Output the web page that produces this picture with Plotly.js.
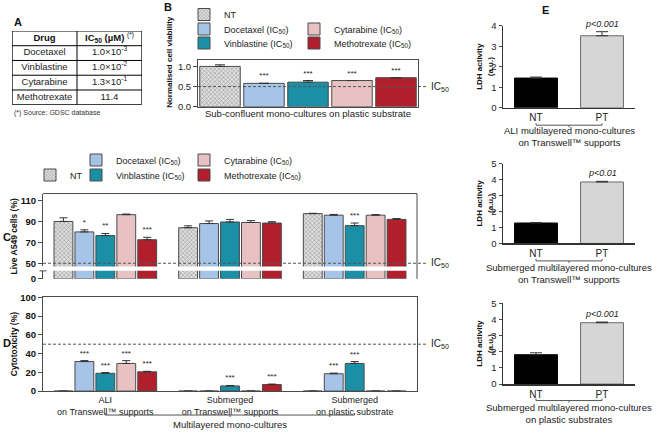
<!DOCTYPE html>
<html><head><meta charset="utf-8">
<script src="https://cdn.plot.ly/plotly-3.0.1.min.js"></script>
<style>html,body{margin:0;padding:0;background:#fff}</style>
</head><body><div id="chart" style="width:660px;height:432px"></div>
<script>
// ---------------- data ----------------
const treatments = ["NT", "Docetaxel", "Vinblastine", "Cytarabine", "Methotrexate"];
const legendLabels = ["NT", "Docetaxel (IC<sub>50</sub>)", "Vinblastine (IC<sub>50</sub>)", "Cytarabine (IC<sub>50</sub>)", "Methotrexate (IC<sub>50</sub>)"];

const tableHeader = ["<b>Drug</b>", "<b>IC<sub>50</sub> (µM)</b> <sup>(*)</sup>"];
const tableDrugs = ["Docetaxel", "Vinblastine", "Cytarabine", "Methotrexate"];
const tableIC50 = ["1.0×10<sup>-3</sup>", "1.0×10<sup>-2</sup>", "1.3×10<sup>-1</sup>", "11.4"];
const tableNote = "(*) Source: GDSC database";

const bViability = [1.00, 0.58, 0.61, 0.65, 0.72];
const bViabilityErr = [0.04, 0.00, 0.04, 0.00, 0.00];
const bSignif = ["", "***", "***", "***", "***"];
const bCulture = "Sub-confluent mono-cultures on plastic substrate";

const cultures = ["ALI<br>on Transwell™ supports", "Submerged<br>on Transwell™ supports", "Submerged<br>on plastic substrate"];
const culturesGroup = "Multilayered mono-cultures";

const liveNT  = [90.0, 84.0, 97.5];
const liveDoc = [80.0, 88.0, 96.0];
const liveVin = [76.5, 89.5, 86.0];
const liveCyt = [96.5, 89.0, 96.0];
const liveMtx = [72.5, 88.5, 92.0];
const liveErrNT  = [3.5, 1.8, 0.3];
const liveErrDoc = [2.0, 2.5, 0.7];
const liveErrVin = [2.0, 2.5, 2.5];
const liveErrCyt = [0.6, 1.8, 0.6];
const liveErrMtx = [2.3, 1.3, 0.8];
const liveSigNT  = ["", "", ""];
const liveSigDoc = ["*", "", ""];
const liveSigVin = ["**", "", "***"];
const liveSigCyt = ["", "", ""];
const liveSigMtx = ["***", "", ""];

const cytoNT  = [0, 0, 0];
const cytoDoc = [31.5, 0, 18.5];
const cytoVin = [19.0, 5.5, 29.5];
const cytoCyt = [29.5, 0, 0];
const cytoMtx = [20.5, 7.0, 0];
const cytoErrNT  = [0, 0, 0];
const cytoErrDoc = [1.0, 0, 0.7];
const cytoErrVin = [0.8, 0.5, 2.0];
const cytoErrCyt = [3.0, 0, 0];
const cytoErrMtx = [0.6, 0.5, 0];
const cytoSigNT  = ["", "", ""];
const cytoSigDoc = ["***", "", "***"];
const cytoSigVin = ["***", "***", "***"];
const cytoSigCyt = ["***", "", ""];
const cytoSigMtx = ["***", "***", ""];

const ldhGroups = ["NT", "PT"];
const ldhALI = [1.45, 3.52];
const ldhALIErr = [0.05, 0.20];
const ldhSubTW = [1.28, 3.85];
const ldhSubTWErr = [0.03, 0.04];
const ldhSubPl = [1.82, 3.80];
const ldhSubPlErr = [0.12, 0.04];
const ldhP = ["p<0.001", "p<0.01", "p<0.001"];
const ldhCultures = ["ALI multilayered mono-cultures<br>on Transwell™ supports",
                     "Submerged multilayered mono-cultures<br>on Transwell™ supports",
                     "Submerged multilayered mono-cultures<br>on plastic substrates"];
const ic50Viability = 0.5;
const ic50Percent = 50;

// ---------------- styles / geometry ----------------
const W = 660, H = 432;
const px = v => v / W;
const py = v => 1 - v / H;
const FONT = "Liberation Sans, Arial, Helvetica, sans-serif";
const fills = ["#d9d9d9", "#a6c4e8", "#1b8fa6", "#e8c2c2", "#b21f2c"];
const edge = "#4a4a4a";
function markerFor(i) {
  const m = {color: fills[i], line: {color: edge, width: 1}};
  if (i === 0) m.pattern = {shape: "x", fgcolor: "#8f8f8f", bgcolor: "#dedede", size: 3, solidity: 0.3};
  return m;
}
function errY(arr, w) {
  return {type: "data", symmetric: false, array: arr, arrayminus: arr.map(() => 0),
          color: "#333", thickness: 1, width: w};
}
const starFont = {family: FONT, size: 8, color: "#222"};
const clear = {color: "rgba(0,0,0,0)", line: {width: 0}};

const data = [];

// ---- Table A (own hidden axes: columns 0..2, rows 0..5) ----
const nRows = tableDrugs.length + 1;
data.push({type: "scatter", mode: "text", xaxis: "x8", yaxis: "y8",
  x: tableHeader.map((_, c) => c + 0.5), y: tableHeader.map(() => 0.5),
  text: tableHeader, textposition: "middle center",
  textfont: {family: FONT, size: 9.5, color: "#111"}, showlegend: false, hoverinfo: "skip"});
data.push({type: "scatter", mode: "text", xaxis: "x8", yaxis: "y8",
  x: tableDrugs.map(() => 0.5).concat(tableIC50.map(() => 1.5)),
  y: tableDrugs.map((_, r) => r + 1.5).concat(tableIC50.map((_, r) => r + 1.5)),
  text: tableDrugs.concat(tableIC50), textposition: "middle center",
  textfont: {family: FONT, size: 9.5, color: "#222"}, showlegend: false, hoverinfo: "skip"});

// ---- B ----
const bLegends = ["legend", "legend2", "legend3", "legend4", "legend5"];
treatments.forEach((t, i) => {
  data.push({type: "bar", name: legendLabels[i], x: [t], y: [bViability[i]],
    xaxis: "x", yaxis: "y", offsetgroup: "b", width: 0.92,
    marker: markerFor(i), error_y: errY([bViabilityErr[i]], 5),
    legend: bLegends[i], showlegend: true, hoverinfo: "skip"});
});
treatments.forEach((t, i) => {
  data.push({type: "bar", x: [t], y: [bViability[i] + bViabilityErr[i]],
    xaxis: "x", yaxis: "y", offsetgroup: "b", width: 0.92, marker: clear,
    text: [bSignif[i]], textposition: "outside", textangle: 0, constraintext: "none",
    textfont: starFont, showlegend: false, hoverinfo: "skip"});
});

// ---- C and D ----
const live = [liveNT, liveDoc, liveVin, liveCyt, liveMtx];
const liveErr = [liveErrNT, liveErrDoc, liveErrVin, liveErrCyt, liveErrMtx];
const liveSig = [liveSigNT, liveSigDoc, liveSigVin, liveSigCyt, liveSigMtx];
const cyto = [cytoNT, cytoDoc, cytoVin, cytoCyt, cytoMtx];
const cytoErr = [cytoErrNT, cytoErrDoc, cytoErrVin, cytoErrCyt, cytoErrMtx];
const cytoSig = [cytoSigNT, cytoSigDoc, cytoSigVin, cytoSigCyt, cytoSigMtx];
const cLegends = ["legend6", "legend7", "legend8", "legend9", "legend10"];

treatments.forEach((t, i) => {
  data.push({type: "bar", name: legendLabels[i], x: cultures, y: live[i],
    xaxis: "x2", yaxis: "y2", offsetgroup: t, marker: markerFor(i),
    error_y: errY(liveErr[i], 4), legend: cLegends[i], showlegend: true, hoverinfo: "skip"});
});
treatments.forEach((t, i) => {
  data.push({type: "bar", x: cultures, y: live[i], xaxis: "x2", yaxis: "y3",
    offsetgroup: t, marker: markerFor(i), showlegend: false, hoverinfo: "skip"});
});
treatments.forEach((t, i) => {
  data.push({type: "bar", x: cultures, y: live[i].map((v, k) => v + liveErr[i][k]),
    xaxis: "x2", yaxis: "y2", offsetgroup: t, marker: clear,
    text: liveSig[i], textposition: "outside", textangle: 0, constraintext: "none",
    textfont: starFont, showlegend: false, hoverinfo: "skip"});
});
treatments.forEach((t, i) => {
  data.push({type: "bar", x: cultures, y: cyto[i], xaxis: "x4", yaxis: "y4",
    offsetgroup: t, marker: markerFor(i), error_y: errY(cytoErr[i], 4),
    showlegend: false, hoverinfo: "skip"});
});
treatments.forEach((t, i) => {
  data.push({type: "bar", x: cultures, y: cyto[i].map((v, k) => v + cytoErr[i][k]),
    xaxis: "x4", yaxis: "y4", offsetgroup: t, marker: clear,
    text: cytoSig[i], textposition: "outside", textangle: 0, constraintext: "none",
    textfont: starFont, showlegend: false, hoverinfo: "skip"});
});

// ---- E ----
const ldh = [ldhALI, ldhSubTW, ldhSubPl];
const ldhErr = [ldhALIErr, ldhSubTWErr, ldhSubPlErr];
ldh.forEach((vals, k) => {
  data.push({type: "bar", x: ldhGroups, y: vals, xaxis: "x" + (5 + k), yaxis: "y" + (5 + k),
    offsetgroup: "e", width: 0.65,
    marker: {color: ["#000000", "#d6d6d6"], line: {color: ["#000000", "#6a6a6a"], width: 1}},
    error_y: errY(ldhErr[k], 6), showlegend: false, hoverinfo: "skip"});
});

// ---------------- layout ----------------
const tickF = {family: FONT, size: 9.5, color: "#222"};
const tickFB = {family: FONT, size: 9.5, color: "#111", weight: "bold"};
const baseY = {showgrid: false, zeroline: false, showline: true, linecolor: edge, linewidth: 1,
               ticks: "outside", ticklen: 4, tickcolor: edge, automargin: false, fixedrange: true};
const baseX = {type: "category", showgrid: false, zeroline: false, automargin: false, fixedrange: true, ticks: ""};

const layout = {
  width: W, height: H, margin: {l: 0, r: 0, t: 0, b: 0}, autosize: false,
  paper_bgcolor: "#fff", plot_bgcolor: "rgba(0,0,0,0)",
  font: {family: FONT, size: 10, color: "#222"},
  barmode: "group", bargap: 0.16, bargroupgap: 0.1,
  showlegend: true,
  xaxis: Object.assign({}, baseX, {domain: [px(198), px(418)], anchor: "y", showticklabels: false,
    showline: true, mirror: true, linecolor: edge, range: [-0.5, 4.5]}),
  yaxis: Object.assign({}, baseY, {domain: [py(106), py(59.5)], anchor: "x", range: [0, 1.15],
    tickvals: [0, 0.5, 1], tickformat: ".1f", mirror: true, tickfont: tickF}),
  xaxis2: Object.assign({}, baseX, {domain: [px(43), px(417)], anchor: "y2", showticklabels: false}),
  yaxis2: Object.assign({}, baseY, {domain: [py(266), py(193)], anchor: "x2", range: [47, 116.7],
    tickvals: [50, 70, 90, 110], tickfont: tickFB}),
  yaxis3: Object.assign({}, baseY, {domain: [py(278.5), py(270.5)], anchor: "x2", range: [0, 8],
    tickvals: [0], tickfont: tickFB}),
  xaxis4: Object.assign({}, baseX, {domain: [px(43), px(417)], anchor: "y4", showline: true, mirror: true,
    linecolor: edge, tickfont: {family: FONT, size: 9, color: "#222"}}),
  yaxis4: Object.assign({}, baseY, {domain: [py(391), py(297)], anchor: "x4", range: [0, 100],
    dtick: 20, mirror: true, tickfont: tickFB}),
  xaxis8: {domain: [px(12), px(142)], anchor: "y8", range: [0, 2], visible: false},
  yaxis8: {domain: [py(104), py(30)], anchor: "x8", range: [nRows, 0], visible: false},
  shapes: [], annotations: []
};
const eDomains = [[py(107), py(25), 4], [py(243), py(163), 5], [py(384), py(303), 5]];
eDomains.forEach((d, k) => {
  layout["xaxis" + (5 + k)] = Object.assign({}, baseX, {domain: [px(503), px(635)], anchor: "y" + (5 + k),
    showline: true, linecolor: "#333", linewidth: 1.5, tickfont: {family: FONT, size: 10, color: "#222"}});
  layout["yaxis" + (5 + k)] = Object.assign({}, baseY, {domain: [d[0], d[1]], anchor: "x" + (5 + k),
    range: [0, d[2]], dtick: 1, linecolor: "#333", linewidth: 1.5, ticklen: 3, tickfont: tickF});
});

// legends
const legPos = [[184, 14], [184, 29], [184, 43], [294, 29], [294, 43],
                [30, 175], [76, 160], [76, 175], [184, 160], [184, 175]];
legPos.forEach((p, k) => {
  const key = k === 0 ? "legend" : "legend" + (k + 1);
  layout[key] = {x: px(p[0]), y: py(p[1]), xanchor: "left", yanchor: "middle", bgcolor: "rgba(0,0,0,0)",
    font: {family: FONT, size: 9, color: "#222"}};
});

// shapes
const dash = {color: "#555", width: 1, dash: "3px,2px"};
const thin = {color: "#555", width: 1};
layout.shapes.push(
  {type: "line", xref: "paper", yref: "y", x0: px(198), x1: px(428), y0: ic50Viability, y1: ic50Viability, line: dash},
  {type: "line", xref: "paper", yref: "y2", x0: px(43), x1: px(428), y0: ic50Percent, y1: ic50Percent, line: dash},
  {type: "line", xref: "paper", yref: "y4", x0: px(43), x1: px(428), y0: ic50Percent, y1: ic50Percent, line: dash},
  {type: "line", xref: "paper", yref: "paper", x0: px(43), x1: px(417), y0: py(193), y1: py(193), line: {color: edge, width: 1}},
  {type: "line", xref: "paper", yref: "paper", x0: px(417), x1: px(417), y0: py(193), y1: py(278.5), line: {color: edge, width: 1}},
  {type: "line", xref: "paper", yref: "paper", x0: px(39.5), x1: px(46.5), y0: py(270.5), y1: py(270.5), line: {color: edge, width: 1}},
  {type: "line", xref: "x4", yref: "paper", x0: cultures[0], x1: cultures[2], y0: py(415), y1: py(415), line: thin},
  {type: "line", xref: "x4", yref: "paper", x0: cultures[0], x1: cultures[0], y0: py(415), y1: py(413), line: thin},
  {type: "line", xref: "x4", yref: "paper", x0: cultures[2], x1: cultures[2], y0: py(415), y1: py(413), line: thin},
  {type: "line", xref: "x4", yref: "paper", x0: cultures[1], x1: cultures[1], y0: py(415), y1: py(417), line: thin},
  {type: "rect", xref: "x8", yref: "y8", x0: 0, x1: 2, y0: 0, y1: nRows, line: {color: "#000", width: 1.3}},
  {type: "line", xref: "x8", yref: "y8", x0: 1, x1: 1, y0: 0, y1: nRows, line: {color: "#000", width: 1}}
);
tableDrugs.forEach((_, r) => {
  layout.shapes.push({type: "line", xref: "x8", yref: "y8", x0: 0, x1: 2, y0: r + 1, y1: r + 1, line: {color: "#000", width: 1}});
});
[124.5, 260.5, 400.5].forEach((yb, k) => {
  const xr = "x" + (5 + k);
  layout.shapes.push(
    {type: "line", xref: xr, yref: "paper", x0: ldhGroups[0], x1: ldhGroups[1], y0: py(yb), y1: py(yb), line: thin},
    {type: "line", xref: xr, yref: "paper", x0: ldhGroups[0], x1: ldhGroups[0], y0: py(yb), y1: py(yb - 2), line: thin},
    {type: "line", xref: xr, yref: "paper", x0: ldhGroups[1], x1: ldhGroups[1], y0: py(yb), y1: py(yb - 2), line: thin},
    {type: "line", xref: "paper", yref: "paper", x0: px(569), x1: px(569), y0: py(yb), y1: py(yb + 2), line: thin}
  );
});

// annotations
function ann(text, x, y, opts) {
  return Object.assign({text: text, x: px(x), y: py(y), xref: "paper", yref: "paper", showarrow: false,
    xanchor: "center", yanchor: "middle", font: {family: FONT, size: 10, color: "#222"}}, opts || {});
}
const bold = s => ({family: FONT, size: s, color: "#111", weight: "bold"});
layout.annotations.push(
  ann("A", 12, 21, {xanchor: "left", font: bold(11)}),
  ann("B", 162, 6, {xanchor: "left", font: bold(11)}),
  ann("C", 7, 237, {font: bold(11)}),
  ann("D", 7, 343, {font: bold(11)}),
  ann("E", 545, 9, {font: bold(11)}),
  ann(tableNote, 12, 112, {xanchor: "left", font: {family: FONT, size: 7, color: "#333"}}),
  ann("Normalised cell viability", 170, 61, {textangle: -90, font: bold(8)}),
  ann(bCulture, 308, 113, {font: {family: FONT, size: 9.5, color: "#222"}}),
  ann("Live A549 cells (%)", 14, 236, {textangle: -90, font: bold(8.5)}),
  ann("Cytotoxicity (%)", 14, 344, {textangle: -90, font: bold(8.5)}),
  ann(culturesGroup, 230, 424, {font: {family: FONT, size: 9.5, color: "#222"}}),
  ann("IC<sub>50</sub>", 429, 0, {yref: "y", y: ic50Viability, xanchor: "left"}),
  ann("IC<sub>50</sub>", 429, 0, {yref: "y2", y: ic50Percent, xanchor: "left"}),
  ann("IC<sub>50</sub>", 429, 0, {yref: "y4", y: ic50Percent, xanchor: "left"})
);
[[66, 136], [203, 273], [343.5, 413]].forEach((p, k) => {
  layout.annotations.push(
    ann("LDH activity<br>(a.u.)", 485, p[0], {textangle: -90, font: bold(8)}),
    ann(ldhCultures[k], 569, p[1], {font: {family: FONT, size: 9.5, color: "#222"}}),
    {text: ldhP[k], xref: "x" + (5 + k), yref: "y" + (5 + k), x: ldhGroups[1],
     y: ldh[k][1] + ldhErr[k][1], yanchor: "bottom", xanchor: "center", yshift: 1, showarrow: false,
     font: {family: FONT, size: 9, color: "#222", style: "italic"}}
  );
});

Plotly.newPlot("chart", data, layout, {staticPlot: true, displayModeBar: false});
</script>
</body></html>
